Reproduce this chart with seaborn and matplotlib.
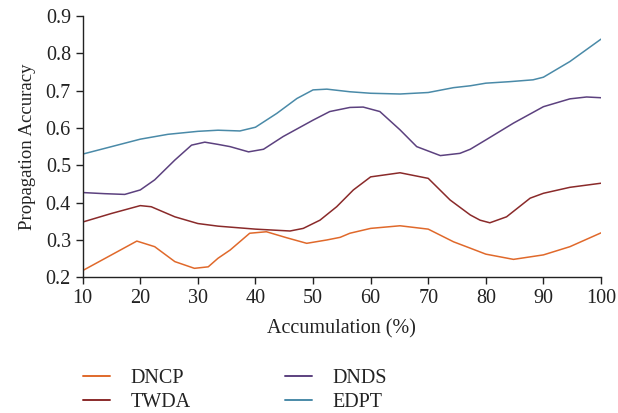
import numpy as np
import pandas as pd
import seaborn as sns
import matplotlib.pyplot as plt

# values (x = accumulation %, y = propagation accuracy)
dncp_x = [10, 15, 19.4, 22.5, 26, 29.4, 31.8, 33.5, 35.6, 39, 41.9, 45.4, 48.9, 52.4,
          54.7, 56.4, 60, 65.1, 70, 74.4, 77.3, 80, 84.8, 90, 94.6, 100]
dncp_y = [0.218, 0.260, 0.297, 0.282, 0.242, 0.224, 0.228, 0.251, 0.273, 0.318, 0.322, 0.306, 0.291, 0.300,
          0.307, 0.318, 0.331, 0.338, 0.329, 0.295, 0.278, 0.262, 0.248, 0.260, 0.282, 0.319]

twda_x = [10, 15, 20, 21.9, 26, 30, 33.5, 40, 46, 48.3, 51.2, 54.1, 57, 60, 65.1, 70,
          73.8, 77.3, 79, 80.7, 83.6, 87.7, 90, 94.6, 100]
twda_y = [0.348, 0.371, 0.392, 0.389, 0.362, 0.344, 0.337, 0.329, 0.324, 0.331, 0.353, 0.389, 0.434, 0.469, 0.480, 0.465,
          0.407, 0.367, 0.353, 0.346, 0.362, 0.412, 0.425, 0.441, 0.452]

dnds_x = [10, 13.8, 17.3, 20, 22.5, 26, 28.9, 31.2, 33.5, 35.6, 38.8, 41.4, 44.8, 50, 52.9,
          56.4, 58.7, 61.6, 65.1, 68, 72.1, 75.5, 77.3, 80, 84.8, 90, 94.6, 97.5, 100]
dnds_y = [0.427, 0.424, 0.422, 0.434, 0.461, 0.514, 0.554, 0.562, 0.556, 0.550, 0.536, 0.543, 0.577, 0.621, 0.644,
          0.655, 0.656, 0.644, 0.595, 0.550, 0.526, 0.532, 0.543, 0.568, 0.613, 0.657, 0.678, 0.683, 0.681]

edpt_x = [10, 15, 20, 24.8, 30, 33.5, 37.3, 40, 43.7, 47.2, 50, 52.4, 56.4, 60, 65.1, 70,
          74.4, 77.3, 80, 84.1, 88.2, 90, 94.6, 100]
edpt_y = [0.530, 0.550, 0.570, 0.583, 0.591, 0.594, 0.592, 0.602, 0.639, 0.679, 0.702, 0.704, 0.697, 0.693, 0.691, 0.695,
          0.708, 0.713, 0.720, 0.724, 0.729, 0.736, 0.778, 0.838]

names = ["DNCP", "TWDA", "DNDS", "EDPT"]
colors = ["#e0692b", "#8a2a2a", "#5c417f", "#4a8aa8"]

frames = []
for name, xs, ys in zip(names, [dncp_x, twda_x, dnds_x, edpt_x], [dncp_y, twda_y, dnds_y, edpt_y]):
    frames.append(pd.DataFrame({"x": xs, "y": ys, "method": name}))
df = pd.concat(frames, ignore_index=True)

sns.set_style("ticks")
plt.rcParams["font.family"] = ["Liberation Serif", "DejaVu Serif"]

fig = plt.figure(figsize=(6.18, 4.13), dpi=100)
ax = fig.add_axes([0.1338, 0.3286, 0.8387, 0.6327])

sns.lineplot(data=df, x="x", y="y", hue="method", hue_order=names, palette=colors,
             linewidth=1.1, sort=True, estimator=None, ax=ax, legend=False)

ax.set_xlim(10, 100)
ax.set_ylim(0.2, 0.9)
ax.set_xticks(range(10, 101, 10))
yt = np.round(np.arange(0.2, 0.91, 0.1), 1)
ax.set_yticks(yt)
ax.set_yticklabels([f"{v:.1f}" for v in yt])
ax.tick_params(direction="out", length=5, width=1, labelsize=14.5, color="#222222",
               labelcolor="#222222")
ax.set_xlabel("Accumulation (%)", fontsize=14.5, labelpad=8, color="#222222")
ax.set_ylabel("Propagation Accuracy", fontsize=13.5, labelpad=7, color="#222222")
for s in ["left", "bottom"]:
    ax.spines[s].set_color("#222222")
    ax.spines[s].set_linewidth(1)
sns.despine(ax=ax)

handles = [plt.Line2D([], [], color=c, linewidth=1.4) for c in colors]
fig.legend(handles, names, ncol=2, loc="upper left", bbox_to_anchor=(0.105, 0.151),
           frameon=False, fontsize=14.5, handlelength=1.35, handletextpad=1.0,
           columnspacing=4.7, labelspacing=0.25, labelcolor="#222222")

fig.savefig("out.png", dpi=100)
